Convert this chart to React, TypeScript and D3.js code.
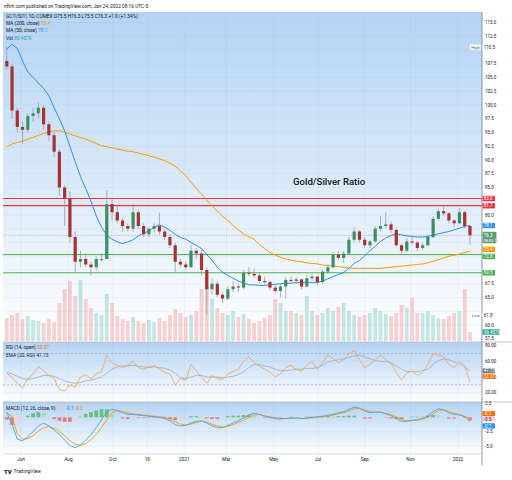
import * as d3 from 'd3';
import React from 'react';

// weekly bars, week of May 11 2020 .. week of Jan 17 2022 (plotted mid-week)
const firstBar = new Date(2020, 4, 13);

const opens = [108,107,99,96,95.5,98,98.5,99.5,96.5,94.5, 91.5,85,83,76,71.5,72,71,70.5,72,72, 82,80.5,79,78,77.5,80.5,78,76.5,77.5,78, 77,76,74.5,71.5,71,70.5,73.5,73,70,66.5, 67.5,65.5,64.8,66.5,67,66.8,69.5,69.3,69,68, 67.8,66.8,66.2,67,68.2,68,68.3,67,68.5,68.8, 67.8,69.7,70.5,72.8,72.2,73,75.5,77,75.5,74.5, 75.2,77.5,78,78.3,77.3,74.5,73.5,75.2,75,74, 74.5,76,79.3,80.7,80.3,79,78.5,80.5,78];
const highs = [110.5,107.5,99.5,97,98.5,99.5,100.5,100,97,95, 92,85.5,84.3,77,73.5,73,71.5,72.5,73,84.5, 83,82,79.5,78.5,82,81,78.5,77.8,78.5,80.4, 77.5,76.5,75,72,71.5,74.5,74,74,70.5,68.5, 68,66,67,68,67.5,70,70.5,70.3,69.5,68.8, 68,67.5,67.5,68.7,68.8,68.7,68.5,69,69.3,69, 70,71,73.3,73.5,73.5,76,77.8,77.3,76,75.5, 78,79.8,80.5,78.8,77.5,74.8,75.8,76.2,75.3,75, 76.5,79.8,81.2,81.9,80.5,79.2,81.2,80.8,78.2];
const lows = [106.5,97.5,95,93,95,97,97.5,95.5,93.5,90.5, 83.5,78,75,69.5,70.5,70.5,69,70,71.5,72, 79,78.5,77,77,77,77.5,76,76,76.8,76.5, 75.5,74,69.5,70.5,70,70.5,72,69,61.8,65.5, 65,64,64.5,66,66,66.5,68.8,68.5,67.5,67.3, 66.3,65.8,65,64.8,67.6,67.5,66.5,66.8,68,67.3, 67.5,69.3,70.3,71.8,71.3,72.8,75,75,74,74, 75,77,77.5,76.8,74.2,72.8,73.2,74.5,73.5,73.6, 74.3,75.8,79,79.8,78.5,77.8,78.3,77.5,74.6];
const closes = [107,99,96,95.5,98,98.5,99.5,96.5,94.5,91.5, 85,83,76,71.5,72,71,70.5,72,72,82, 80.5,79,78,77.5,80.5,78,76.5,77.5,78,77, 76,74.5,71.5,71,70.5,73.5,73,70,66.5,67.5, 65.5,64.8,66.5,67,66.8,69.5,69.3,69,68,67.8, 66.8,66.2,67,68.2,68,68.3,67,68.5,68.8,67.8, 69.7,70.5,72.8,72.2,73,75.5,77,75.5,74.5,75.2, 77.5,78,78.3,77.3,74.5,73.5,75.2,75,74,74.5, 76,79.3,80.7,80.3,79,78.5,80.5,78,76.3];

// volume in K
const volumes = [230,260,280,220,250,210,200,180,220,190, 380,520,600,450,610,420,330,280,260,470, 380,250,220,200,240,200,180,210,190,230, 200,260,320,280,240,260,300,520,560,420, 330,280,260,300,240,270,220,180,200,230, 260,420,380,300,300,280,260,450,300,260, 280,330,300,340,380,300,260,240,260,280, 330,300,270,250,280,360,330,430,280,280, 300,260,230,220,250,280,300,520,90.457];

const ma50 = [110.2,111,110.3,108,106,105,104,103,101.7,99.5, 97.5,95.3,92.5,89.7,87,84.8,82.5,79.8,77.8,76.3, 75.6,75.1,74.8,75.1,75.5,76.2,76.7,77.1,77.8,78.2, 77.8,77.2,76.5,75.9,75.6,75,74.5,73.9,72.8,71.8, 70.5,69.6,69,68.5,68,67.6,67.3,67.3,67.2,67.2, 67.3,67.4,67.5,67.6,67.6,67.7,67.7,67.7,67.7,67.7, 68,68.4,68.8,69.2,69.5,70.3,71.2,71.7,72.6,73.5, 74.3,75.2,75.8,76.3,76.5,76.4,76.2,76.1,76,76, 76.1,76.3,76.6,76.8,77,77.3,77.6,77.9,78.1];
const ma200 = [92.4,92.9,93.2,93.4,93.8,94.1,94.5,94.8,95.1,95.3, 95.3,95.1,94.7,94.4,94.1,93.8,93.4,93,92.6,92.4, 92.2,92,91.8,91.6,91.5,91.3,91,90.8,90.5,90.2, 89.9,89.4,88.9,88,87.2,86,84.8,83.8,82.7,81.7, 80.7,79.8,79,78.1,77.3,76.6,76,75.6,74.6,73.9, 73.2,72.7,72.3,72,71.8,71.6,71.5,71.3,71.2,71.1, 70.9,70.8,70.7,70.6,70.5,70.4,70.3,70.3,70.3,70.3, 70.3,70.3,70.4,70.5,70.6,70.7,70.8,70.9,71,71.1, 71.3,71.6,71.9,72.2,72.5,72.7,72.9,73.2,73.4];

const rsi = [45,40,32,26,38,44,53,48,42,38, 24,22,30,27,40,43,38,44,47,68, 58,55,52,55,60,52,50,53,55,50, 46,44,30,38,36,56,48,40,32,42, 38,37,44,47,50,60,66,58,54,50, 46,40,44,52,55,50,47,55,60,50, 58,68,64,58,62,70,74,62,52,56, 62,68,62,58,46,36,45,48,42,46, 56,70,68,66,56,52,60,55,33.37];
const rsiEma = [46,44,41,38,37,38,40,42,42,41, 38,35,33,32,33,35,36,38,40,45, 50,53,54,54,55,54,53,52,53,52, 51,49,45,39,38,40,42,42,40,40, 40,39,40,41,43,47,52,56,56,54, 53,50,48,48,49,50,50,51,51,52, 55,59,61,62,63,65,67,68,66,63, 61,60,60,58,54,50,47,47,47,48, 50,56,61,63,62,59,57,53,47.73];

const macd = [0.9,-1.2,-3.8,-4.1,-3.4,-2.5,-1.5,-1.0,-1.5,-2.2, -3.0,-4.0,-4.9,-5.3,-4.8,-4.0,-3.0,-1.8,-0.4,1.0, 1.4,1.2,0.8,0.5,0.5,0.4,0.3,0.2,0.1,0.0, -0.2,-0.6,-1.3,-1.5,-1.4,-1.0,-0.7,-0.6,-1.0,-1.5, -1.8,-1.8,-1.4,-1.0,-0.6,-0.1,0.4,0.7,0.5,0.2, 0.0,-0.2,-0.3,-0.2,-0.1,-0.1,-0.2,-0.1,0.0,0.1, 0.2,0.4,0.5,0.8,1.0,1.4,1.8,1.6,1.1,0.8, 0.9,0.9,0.6,0.3,-0.2,-0.7,-0.7,-0.5,-0.4,-0.2, 0.3,1.0,1.5,1.3,0.8,0.5,0.4,0.1,-0.7];
const signal = [0.8,0.1,-2.8,-3.8,-3.7,-3.2,-2.4,-1.8,-1.6,-1.9, -2.4,-3.2,-4.1,-4.7,-4.9,-4.6,-3.9,-3.0,-1.8,-0.4, 0.8,1.2,1.0,0.8,0.6,0.5,0.4,0.3,0.2,0.1, 0.0,-0.3,-0.8,-1.2,-1.3,-1.2,-0.9,-0.7,-0.8,-1.2, -1.5,-1.7,-1.6,-1.3,-0.9,-0.5,0.0,0.4,0.5,0.3, 0.1,-0.1,-0.2,-0.2,-0.2,-0.1,-0.2,-0.2,-0.1,0.0, 0.1,0.2,0.4,0.6,0.8,1.1,1.5,1.6,1.3,1.0, 0.9,0.9,0.7,0.5,0.1,-0.4,-0.6,-0.6,-0.5,-0.3, 0.0,0.6,1.2,1.3,1.0,0.7,0.5,0.2,-0.2];
const hist = [-0.4,-1.3,-1.0,-0.3,0.3,0.7,0.9,0.8,0.1,-0.3, -0.6,-0.8,-0.8,-0.6,0.1,0.6,0.9,1.2,1.4,1.4, 0.6,0.0,-0.2,-0.3,-0.1,-0.1,-0.1,-0.1,-0.1,-0.1, -0.2,-0.3,-0.5,-0.3,-0.1,0.2,0.2,0.1,-0.2,-0.3, -0.3,-0.1,0.2,0.3,0.3,0.4,0.4,0.3,0.0,-0.1, -0.1,-0.1,-0.1,0.0,0.1,0.0,0.0,0.1,0.1,0.1, 0.1,0.2,0.1,0.2,0.2,0.3,0.3,0.0,-0.2,-0.2, 0.0,0.0,-0.1,-0.2,-0.3,-0.3,-0.1,0.1,0.1,0.1, 0.3,0.4,0.3,0.0,-0.2,-0.2,-0.1,-0.1,-0.5];

const timeTicks = [
    { date: '2020-06-01', label: 'Jun' },
    { date: '2020-08-03', label: 'Aug' },
    { date: '2020-10-01', label: 'Oct' },
    { date: '2020-11-16', label: '16' },
    { date: '2021-01-04', label: '2021' },
    { date: '2021-03-01', label: 'Mar' },
    { date: '2021-05-03', label: 'May' },
    { date: '2021-07-01', label: 'Jul' },
    { date: '2021-09-01', label: 'Sep' },
    { date: '2021-11-01', label: 'Nov' },
    { date: '2022-01-03', label: '2022' }
];
const priceTicks = [57.5, 60, 62.5, 65, 67.5, 70, 72.5, 75, 77.5, 80, 82.5, 85, 87.5, 90, 92.5, 95, 97.5, 100, 102.5, 105, 107.5, 110, 112.5, 115];
const rsiTicks = [20, 40, 60, 80];
const rsiBands = [70, 30];
const macdTicks = [2.5, -2.5, -5];
const resistance = [83.0, 81.7];
const support = [72.8, 69.5];
const lastPrice = 76.3;
const highPrice = 110.5;
const lowPrice = 61.8;

const plotL = 3, plotR = 482;
const mainTop = 12, mainBot = 342, rsiBot = 402, macdBot = 454, axisBot = 465;
const font = 'Roboto, "Liberation Sans", sans-serif';
const ink = '#131722';

const dates = closes.map((_, i) => d3.timeDay.offset(firstBar, i * 7));
const x = d3.scaleTime().domain([new Date(2020, 4, 8), new Date(2022, 1, 4)]).range([plotL, plotR]);
const yP = d3.scaleLinear().domain([60, 115]).range([325, 22.5]);
const yV = d3.scaleLinear().domain([0, 620]).range([mainBot - 1, mainBot - 63]);
const yR = d3.scaleLinear().domain([20, 80]).range([392.7, 345.7]);
const yM = d3.scaleLinear().domain([-5, 2.5]).range([446, 403]);

const lineOf = (y: (v: number) => number) =>
    d3.line<number>().x((_, i) => x(dates[i])).y(v => y(v));

const last = (a: number[]) => a[a.length - 1];

// boxes on the price scale, nudged apart like the reference
const priceBoxes = [
    { y: yP(highPrice), h: 5.5, text: highPrice.toFixed(1), fill: '#ffffff', color: ink },
    { y: yP(lowPrice), h: 5.5, text: lowPrice.toFixed(1), fill: '#ffffff', color: ink },
    { y: yP(resistance[0]), h: 5.5, text: resistance[0].toFixed(1), fill: '#f23645' },
    { y: yP(resistance[1]), h: 5.5, text: resistance[1].toFixed(1), fill: '#f23645' },
    { y: yP(last(ma50)), h: 5.5, text: last(ma50).toFixed(1), fill: '#2f8ef0' },
    { y: yP(last(ma200)) - 2, h: 5.5, text: last(ma200).toFixed(1), fill: '#ff9800' },
    { y: yP(support[0]) + 2, h: 5.5, text: support[0].toFixed(1), fill: '#4caf50' },
    { y: yP(support[1]), h: 5.5, text: support[1].toFixed(1), fill: '#4caf50' },
    { y: yV(last(volumes)), h: 5.5, text: last(volumes).toFixed(3) + 'K', fill: '#26a69a', w: 17 }
];
const lastBox = { top: yP(lastPrice) - 3.5, bottom: yP(lastPrice) + 8 };

const hiddenTick = (ty: number) => {
    const a = ty - 2.2, b = ty + 2.2;
    if (b > lastBox.top && a < lastBox.bottom) return true;
    return priceBoxes.some(bx => b > bx.y - bx.h / 2 && a < bx.y + bx.h / 2);
};

const AxisBox = ({ y, text, fill, color = '#fff', w = 12.5, h = 5.5 }) => (
    <g>
        <rect x={plotR + 0.5} y={y - h / 2} width={w} height={h} fill={fill} rx={0.8} />
        <text x={plotR + 1.8} y={y + 1.6} fontSize={4.5} fill={color}>{text}</text>
    </g>
);

const Pane = ({ id, top, bottom }) => (
    <g>
        <defs>
            <linearGradient id={id} x1="0" y1="0" x2="0" y2="1">
                <stop offset="0%" stopColor="#b4d3f4" />
                <stop offset="100%" stopColor="#ffffff" />
            </linearGradient>
            <clipPath id={id + '-clip'}>
                <rect x={plotL} y={top} width={plotR - plotL} height={bottom - top} />
            </clipPath>
        </defs>
        <rect x={plotL} y={top} width={plotR - plotL} height={bottom - top} fill={'url(#' + id + ')'} />
    </g>
);

const App = () => {
    const bw = 3.2;
    const histColor = (v: number, i: number) => {
        const prev = i > 0 ? hist[i - 1] : 0;
        if (v >= 0) return v >= prev ? '#4caf50' : '#a5d6a7';
        return v <= prev ? '#ef5350' : '#ffcdd2';
    };

    return (
        <svg width={512} height={480} style={{ position: 'fixed', left: 0, top: 0, background: '#fff' }} fontFamily={font}>
            <text x={4} y={7.8} fontSize={4.8} fill={ink}>nftrh.com published on TradingView.com, Jan 24, 2022 08:16 UTC-5</text>

            <Pane id="main" top={mainTop} bottom={mainBot} />
            <Pane id="rsi" top={mainBot} bottom={rsiBot} />
            <Pane id="macd" top={rsiBot} bottom={macdBot} />

            {/* grid */}
            <g stroke="#8aa4c4" strokeOpacity={0.15} strokeWidth={0.6}>
                {priceTicks.map(t => <line key={t} x1={plotL} x2={plotR} y1={yP(t)} y2={yP(t)} />)}
                {timeTicks.map(t => <line key={t.date} x1={x(new Date(t.date))} x2={x(new Date(t.date))} y1={mainTop} y2={macdBot} />)}
                {rsiTicks.map(t => <line key={t} x1={plotL} x2={plotR} y1={yR(t)} y2={yR(t)} />)}
                {macdTicks.map(t => <line key={t} x1={plotL} x2={plotR} y1={yM(t)} y2={yM(t)} />)}
            </g>

            {/* main pane */}
            <g clipPath="url(#main-clip)">
                {volumes.map((v, i) => (
                    <rect key={i} x={x(dates[i]) - 1.9} width={3.8} y={yV(v)} height={yV(0) - yV(v)}
                        fill={closes[i] >= opens[i] ? '#26a69a' : '#ef5350'} fillOpacity={0.26} />
                ))}
                <line x1={plotL} x2={plotR} y1={yP(lastPrice)} y2={yP(lastPrice)} stroke="#9598a1" strokeWidth={0.6} strokeDasharray="1.2,1.2" />
                {resistance.map(v => <line key={v} x1={plotL} x2={plotR} y1={yP(v)} y2={yP(v)} stroke="#f23645" strokeWidth={1.2} />)}
                {support.map(v => <line key={v} x1={plotL} x2={plotR} y1={yP(v)} y2={yP(v)} stroke="#4caf50" strokeWidth={1} />)}
                <path d={lineOf(yP)(ma200)} fill="none" stroke="#ff9800" strokeWidth={1} />
                <path d={lineOf(yP)(ma50)} fill="none" stroke="#2f8ef0" strokeWidth={1} />
                {closes.map((c, i) => {
                    const o = opens[i];
                    const up = c >= o;
                    const cx = x(dates[i]);
                    const top = yP(Math.max(o, c));
                    const h = Math.max(0.8, yP(Math.min(o, c)) - top);
                    return (
                        <g key={i}>
                            <line x1={cx} x2={cx} y1={yP(highs[i])} y2={yP(lows[i])} stroke="#8d949e" strokeWidth={0.7} />
                            <rect x={cx - bw / 2} y={top} width={bw} height={h} fill={up ? '#3d8f63' : '#a83232'} />
                        </g>
                    );
                })}
                <text x={293} y={184.5} fontSize={9.6} fontWeight={500} fill={ink}>Gold/Silver Ratio</text>
            </g>

            {/* legends */}
            <g fontSize={4.8} fill={ink}>
                <text x={6} y={17.5}>GC1!/SI1!, 1D, COMEX  O75.5  H76.3  L75.5  C76.3  +1.0 (+1.34%)</text>
                <text x={6} y={25}>MA (200, close) <tspan fill="#ff9800">73.4</tspan></text>
                <text x={6} y={32.3}>MA (50, close) <tspan fill="#2f8ef0">78.1</tspan></text>
                <text x={6} y={39.6}>Vol <tspan fill="#26a69a">90.457K</tspan></text>
                <text x={6} y={349.2}>RSI (14, open) <tspan fill="#ff6d00">33.37</tspan></text>
                <text x={6} y={356.8}>EMA (20, RSI)  47.73</text>
                <text x={6} y={410}>MACD (12, 26, close, 9)  <tspan fill="#f8b9bd">-0.5</tspan>  <tspan fill="#2196f3">-0.7</tspan>  <tspan fill="#ff6d00">-0.2</tspan></text>
            </g>

            {/* RSI pane */}
            <g clipPath="url(#rsi-clip)">
                {rsiBands.map(v => <line key={v} x1={plotL} x2={plotR} y1={yR(v)} y2={yR(v)} stroke="#9598a1" strokeWidth={0.6} strokeDasharray="2,2" />)}
                <path d={lineOf(yR)(rsiEma)} fill="none" stroke="#a3abb5" strokeWidth={0.8} />
                <path d={lineOf(yR)(rsi)} fill="none" stroke="#f5a25a" strokeWidth={0.8} />
            </g>

            {/* MACD pane */}
            <g clipPath="url(#macd-clip)">
                {hist.map((v, i) => (
                    <rect key={i} x={x(dates[i]) - 1.9} width={3.8} y={Math.min(yM(v), yM(0))} height={Math.abs(yM(v) - yM(0))} fill={histColor(v, i)} fillOpacity={0.7} />
                ))}
                <path d={lineOf(yM)(signal)} fill="none" stroke="#ff9800" strokeWidth={0.9} />
                <path d={lineOf(yM)(macd)} fill="none" stroke="#42a5f5" strokeWidth={0.9} />
            </g>

            {/* frame lines */}
            <g stroke="#b2b5be" strokeWidth={0.8}>
                <line x1={plotL} x2={512} y1={mainBot} y2={mainBot} />
                <line x1={plotL} x2={512} y1={rsiBot} y2={rsiBot} />
                <line x1={plotL} x2={plotR} y1={macdBot} y2={macdBot} stroke="#d1d4dc" />
            </g>
            <line x1={plotR} x2={plotR} y1={mainTop} y2={axisBot} stroke="#787b86" strokeWidth={0.8} />

            {/* price axis */}
            <g fontSize={4.5} fill={ink}>
                {priceTicks.filter(t => !hiddenTick(yP(t))).map(t => <text key={t} x={plotR + 3} y={yP(t) + 1.6}>{t.toFixed(1)}</text>)}
                {rsiTicks.map(t => <text key={t} x={plotR + 3} y={yR(t) + 1.6}>{t.toFixed(2)}</text>)}
                {macdTicks.map(t => <text key={t} x={plotR + 3} y={yM(t) + 1.6}>{t.toFixed(1)}</text>)}
            </g>

            <rect x={470} y={yP(highPrice) - 2.8} width={11} height={5.6} fill="#fff" fillOpacity={0.85} />
            <text x={471.3} y={yP(highPrice) + 1.5} fontSize={4.2} fill="#5d606b">High</text>
            <rect x={471} y={yP(lowPrice) - 2.8} width={10} height={5.6} fill="#fff" fillOpacity={0.85} />
            <text x={472} y={yP(lowPrice) + 1.5} fontSize={4.2} fill="#5d606b">Low</text>

            {priceBoxes.map(b => <AxisBox key={b.text} y={b.y} h={b.h} w={b.w} text={b.text} fill={b.fill} color={b.color} />)}
            <g>
                <rect x={plotR + 0.5} y={lastBox.top} width={14} height={lastBox.bottom - lastBox.top} fill="#5e9e78" rx={0.8} />
                <text x={plotR + 1.8} y={yP(lastPrice) + 1.4} fontSize={4.5} fill="#fff">{lastPrice.toFixed(1)}</text>
                <text x={plotR + 1.5} y={yP(lastPrice) + 6.4} fontSize={3.9} fill="#fff">08:53:19</text>
            </g>

            <AxisBox y={yR(last(rsiEma)) - 0.3} h={5} text={last(rsiEma).toFixed(2)} fill="#787b86" />
            <AxisBox y={yR(last(rsi)) - 6} h={5} text={last(rsi).toFixed(2)} fill="#ff6d00" />

            <AxisBox y={yM(last(signal)) - 4.8} h={5.2} text={last(signal).toFixed(1)} fill="#ff6d00" />
            <AxisBox y={yM(last(hist)) - 1.3} h={5.2} text={last(hist).toFixed(1)} fill="#ffcdd2" color={ink} />
            <AxisBox y={yM(last(macd)) + 4.6} h={5.2} text={last(macd).toFixed(1)} fill="#2196f3" />

            {/* time axis */}
            <g fontSize={4.8} fill={ink} textAnchor="middle">
                {timeTicks.map(t => <text key={t.date} x={x(new Date(t.date))} y={461.2}>{t.label}</text>)}
            </g>

            <text x={4} y={473.5} fontSize={6} fontWeight={900} fill={ink}>TV</text>
            <text x={13.5} y={473.3} fontSize={5} fill={ink}>TradingView</text>
        </svg>
    );
};

export default App;
